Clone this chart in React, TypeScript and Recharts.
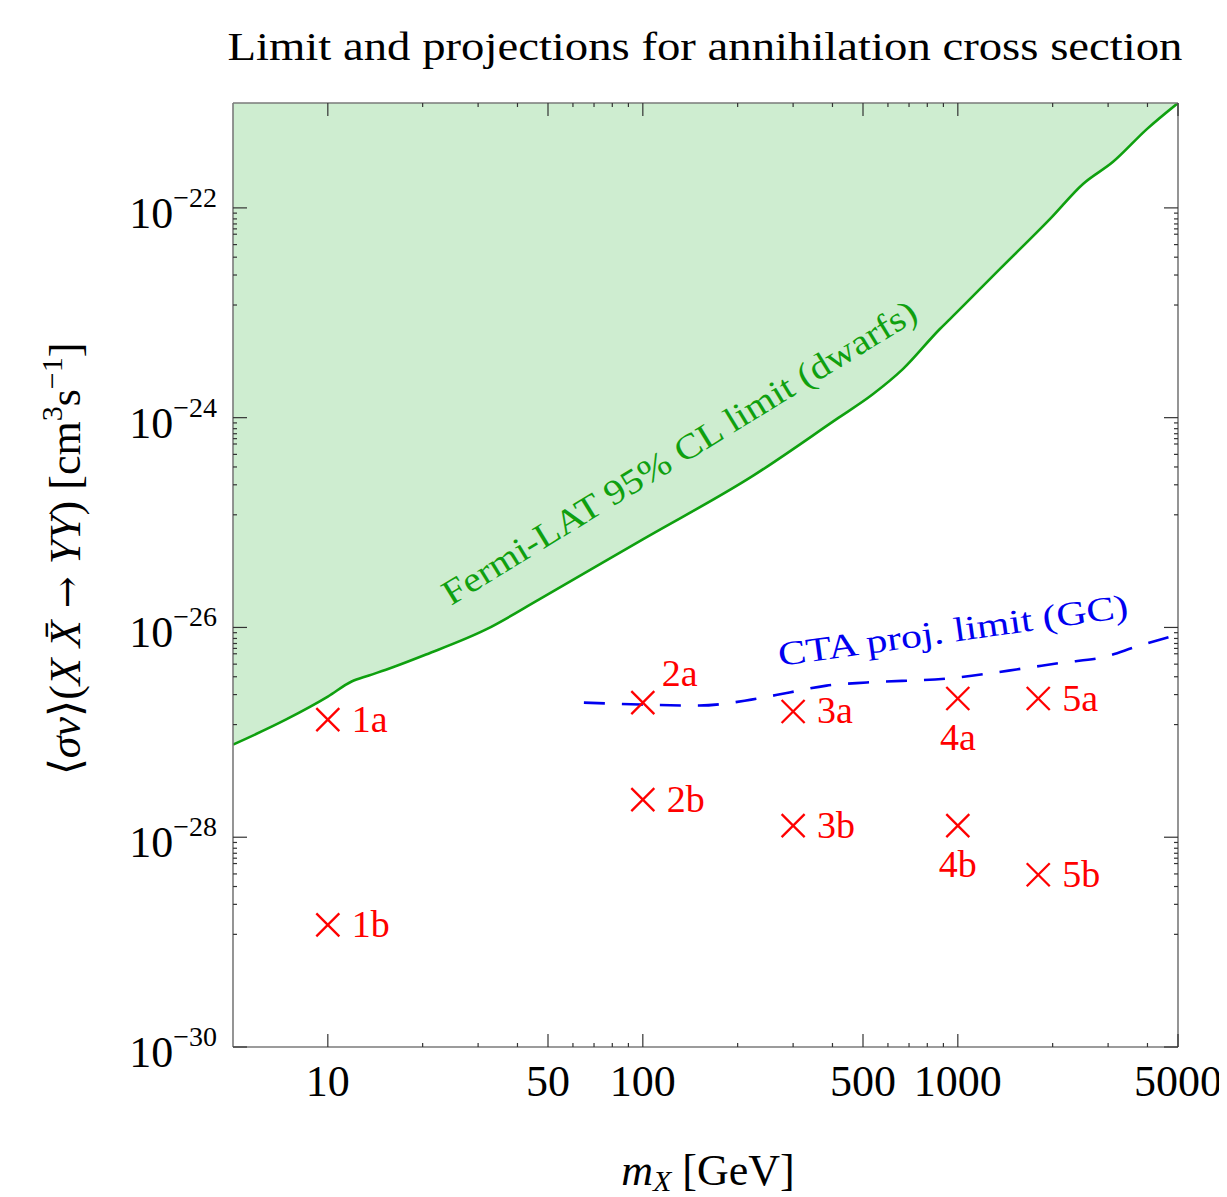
import React from 'react';
import { ComposedChart, Area, Line, Scatter, XAxis, YAxis, ReferenceDot } from 'recharts';

// ---------- data ----------
const xDomain = [5, 5000];
const yDomain = [1e-30, 1e-21];

const fermiMass = [5, 7.35, 10, 11.9, 13.5, 16, 20.5, 31.8, 46.9, 100, 222.8, 412, 537, 669, 877, 944, 1361, 1963, 2497, 3110, 3990, 5000];
const fermiSigma = [7.64e-28, 1.32e-27, 2.19e-27, 3.05e-27, 3.48e-27, 4.15e-27, 5.52e-27, 9.57e-27, 1.85e-26, 6.92e-26, 2.77e-25, 9.68e-25, 1.67e-24, 2.9e-24, 7.0e-24, 8.7e-24, 2.62e-23, 7.85e-23, 1.69e-22, 2.75e-22, 5.67e-22, 1e-21];

const ctaMass = [65, 98, 151, 221, 292, 383, 514, 923, 1611, 2158, 2870, 3710, 5000];
const ctaSigma = [1.92e-27, 1.84e-27, 1.8e-27, 2.05e-27, 2.4e-27, 2.79e-27, 2.99e-27, 3.26e-27, 4.06e-27, 4.63e-27, 5.17e-27, 6.59e-27, 8.57e-27];

const benchLabels = ['1a', '1b', '2a', '2b', '3a', '3b', '4a', '4b', '5a', '5b'];
const benchMass = [10, 10, 100, 100, 300, 300, 1000, 1000, 1800, 1800];
const benchSigma = [1.32e-27, 1.46e-29, 1.92e-27, 2.28e-28, 1.58e-27, 1.29e-28, 2.1e-27, 1.29e-28, 2.1e-27, 4.39e-29];

const xMajorTicks = [10, 50, 100, 500, 1000, 5000];
const xMinorTicks = [20, 30, 40, 60, 70, 80, 90, 200, 300, 400, 600, 700, 800, 900, 2000, 3000, 4000];
const yMajorExp = [-30, -28, -26, -24, -22];
const yMinorOffsets = [0.05, 0.105, 0.153, 0.2, 0.251, 0.35, 0.47, 0.64, 0.926];

const title = 'Limit and projections for annihilation cross section';
const fermiLabel = 'Fermi-LAT 95% CL limit (dwarfs)';
const ctaLabel = 'CTA proj. limit (GC)';
const fermiLabelAnchor = { m: 136.5, s: 3.76e-25 };
const ctaLabelAnchor = { m: 977, s: 7.34e-27 };

// ---------- derived tables ----------
const fermiData = fermiMass.map((m, i) => ({ m, s: fermiSigma[i], band: [fermiSigma[i], yDomain[1]] }));
const ctaData = ctaMass.map((m, i) => ({ m, s: ctaSigma[i] }));
const benchData = benchLabels.map((label, i) => ({ m: benchMass[i], s: benchSigma[i], label }));

const yMajorTicks = yMajorExp.map((e) => Math.pow(10, e));
const yMinorTicks: number[] = [];
yMajorExp.forEach((e) => {
  if (e === yMajorExp[0]) return;
  yMinorOffsets.forEach((d) => yMinorTicks.push(Math.pow(10, e - d)));
});
const xTicks = [...xMajorTicks, ...xMinorTicks].sort((a, b) => a - b);
const yTicks = [...yMajorTicks, ...yMinorTicks].sort((a, b) => a - b);

// ---------- styles ----------
const SERIF = "'Liberation Serif', 'DejaVu Serif', serif";
const FRAME = '#7a7a7a';
const TICK = '#333333';
const GREEN = '#0fa00f';
const FILL = '#ceedd0';
const BLUE = '#0000f0';
const RED = '#ff0000';
const labelPlacement: Record<string, string> = { '2a': 'above', '4a': 'below', '4b': 'below' };

const isMajorX = (v: number) => xMajorTicks.some((t) => Math.abs(t - v) < 1e-9);
const isMajorY = (v: number) => yMajorTicks.some((t) => Math.abs(Math.log10(t) - Math.log10(v)) < 1e-6);

const BottomTick = (p: any) => {
  const { x, y, payload } = p;
  const major = isMajorX(payload.value);
  return (
    <g>
      <line x1={x} y1={y} x2={x} y2={y - (major ? 13 : 4)} stroke={TICK} strokeWidth={1.2} />
      {major && (
        <text x={x} y={y + 49} textAnchor="middle" fontSize={44} fontFamily={SERIF} fill="#000">
          {payload.value}
        </text>
      )}
    </g>
  );
};

const TopTick = (p: any) => {
  const { x, y, payload } = p;
  const major = isMajorX(payload.value);
  return <line x1={x} y1={y} x2={x} y2={y + (major ? 13 : 4)} stroke={TICK} strokeWidth={1.2} />;
};

const LeftTick = (p: any) => {
  const { x, y, payload } = p;
  const major = isMajorY(payload.value);
  const exp = Math.round(Math.log10(payload.value));
  return (
    <g>
      <line x1={x} y1={y} x2={x + (major ? 14 : 4)} y2={y} stroke={TICK} strokeWidth={1.2} />
      {major && (
        <text x={x - 16} y={y + 20} textAnchor="end" fontSize={44} fontFamily={SERIF} fill="#000">
          <tspan>10</tspan>
          <tspan dy={-21} fontSize={28}>{'\u2212' + Math.abs(exp)}</tspan>
        </text>
      )}
    </g>
  );
};

const RightTick = (p: any) => {
  const { x, y, payload } = p;
  const major = isMajorY(payload.value);
  return <line x1={x} y1={y} x2={x - (major ? 14 : 4)} y2={y} stroke={TICK} strokeWidth={1.2} />;
};

const BenchMarker = (p: any) => {
  const { cx, cy, payload } = p;
  if (cx == null || cy == null) return null;
  const s = 11.5;
  const place = labelPlacement[payload.label] || 'right';
  let tx = cx + 24;
  let ty = cy + 12;
  let anchor: any = 'start';
  if (place === 'above') {
    tx = cx + 19;
    ty = cy - 17;
  } else if (place === 'below') {
    tx = cx;
    ty = cy + 51;
    anchor = 'middle';
  }
  return (
    <g>
      <line x1={cx - s} y1={cy - s} x2={cx + s} y2={cy + s} stroke={RED} strokeWidth={2.3} />
      <line x1={cx - s} y1={cy + s} x2={cx + s} y2={cy - s} stroke={RED} strokeWidth={2.3} />
      <text x={tx} y={ty} textAnchor={anchor} fontSize={38} fontFamily={SERIF} fill={RED}>
        {payload.label}
      </text>
    </g>
  );
};

const RotText = (text: string, color: string, angle: number, size: number, len: number) => (p: any) => {
  const { cx, cy } = p;
  if (cx == null || cy == null) return null;
  return (
    <text
      x={cx}
      y={cy}
      transform={`rotate(${-angle} ${cx} ${cy})`}
      textAnchor="middle"
      fontSize={size}
      fontFamily={SERIF}
      fill={color}
      textLength={len}
      lengthAdjust="spacingAndGlyphs"
    >
      {text}
    </text>
  );
};

const W = 1219;
const H = 1189;

export default function App() {
  return (
    <div style={{ position: 'relative', width: W, height: H, background: '#fff' }}>
      <ComposedChart width={W} height={H} margin={{ top: 94, right: 48, bottom: 0, left: 0 }}>
        <XAxis
          dataKey="m"
          type="number"
          scale="log"
          domain={xDomain}
          allowDataOverflow
          ticks={xTicks}
          interval={0}
          height={150}
          tickSize={0}
          tickMargin={0}
          tickLine={false}
          axisLine={{ stroke: FRAME, strokeWidth: 1.6 }}
          tick={<BottomTick />}
        />
        <XAxis
          xAxisId="top"
          orientation="top"
          dataKey="m"
          type="number"
          scale="log"
          domain={xDomain}
          allowDataOverflow
          ticks={xTicks}
          interval={0}
          height={1}
          tickSize={0}
          tickMargin={0}
          tickLine={false}
          axisLine={{ stroke: FRAME, strokeWidth: 1.6 }}
          tick={<TopTick />}
        />
        <YAxis
          dataKey="s"
          type="number"
          scale="log"
          domain={yDomain}
          allowDataOverflow
          ticks={yTicks}
          interval={0}
          width={225}
          tickSize={0}
          tickMargin={0}
          tickLine={false}
          axisLine={{ stroke: FRAME, strokeWidth: 1.6 }}
          tick={<LeftTick />}
        />
        <YAxis
          yAxisId="right"
          orientation="right"
          dataKey="s"
          type="number"
          scale="log"
          domain={yDomain}
          allowDataOverflow
          ticks={yTicks}
          interval={0}
          width={1}
          tickSize={0}
          tickMargin={0}
          tickLine={false}
          axisLine={{ stroke: FRAME, strokeWidth: 1.6 }}
          tick={<RightTick />}
        />
        <Area
          data={fermiData}
          dataKey="band"
          type="monotone"
          stroke="none"
          fill={FILL}
          fillOpacity={1}
          isAnimationActive={false}
          activeDot={false}
          dot={false}
        />
        <Line
          data={fermiData}
          dataKey="s"
          type="monotone"
          stroke={GREEN}
          strokeWidth={2.6}
          dot={false}
          activeDot={false}
          isAnimationActive={false}
        />
        <Line
          data={ctaData}
          dataKey="s"
          type="monotone"
          stroke={BLUE}
          strokeWidth={2.6}
          strokeDasharray="21 17"
          dot={false}
          activeDot={false}
          isAnimationActive={false}
        />
        <Scatter data={benchData} dataKey="s" shape={<BenchMarker />} isAnimationActive={false} />
        <ReferenceDot
          x={fermiLabelAnchor.m}
          y={fermiLabelAnchor.s}
          r={0}
          ifOverflow="visible"
          shape={RotText(fermiLabel, GREEN, 31.5, 35, 550)}
        />
        <ReferenceDot
          x={ctaLabelAnchor.m}
          y={ctaLabelAnchor.s}
          r={0}
          ifOverflow="visible"
          shape={RotText(ctaLabel, BLUE, 8, 34, 353)}
        />
      </ComposedChart>
      <svg
        width={W}
        height={H}
        style={{ position: 'absolute', left: 0, top: 0, pointerEvents: 'none' }}
      >
        <text
          x={697}
          y={52}
          textAnchor="middle"
          fontSize={39}
          fontFamily={SERIF}
          fill="#000"
          textLength={955}
          lengthAdjust="spacingAndGlyphs"
        >
          {title}
        </text>
        <text
          transform="translate(72 551) rotate(-90)"
          x={0}
          y={0}
          textAnchor="middle"
          fontSize={44}
          fontFamily={SERIF}
          fill="#000"
        >
          <tspan>{'\u27E8'}</tspan>
          <tspan fontStyle="italic">{'\u03C3v'}</tspan>
          <tspan>{'\u27E9('}</tspan>
          <tspan fontStyle="italic">{'X X\u0304'}</tspan>
          <tspan fontFamily="'DejaVu Serif', serif" fontSize={38}>{' \u2192 '}</tspan>
          <tspan fontStyle="italic">YY</tspan>
          <tspan>{') [cm'}</tspan>
          <tspan dy={-18} fontSize={30}>3</tspan>
          <tspan dy={18}>s</tspan>
          <tspan dy={-18} fontSize={30}>{'\u22121'}</tspan>
          <tspan dy={18}>]</tspan>
        </text>
        <text x={700} y={1177} textAnchor="middle" fontSize={44} fontFamily={SERIF} fill="#000">
          <tspan fontStyle="italic">m</tspan>
          <tspan fontStyle="italic" fontSize={30} dy={6}>X</tspan>
          <tspan dy={-6}>{' [GeV]'}</tspan>
        </text>
      </svg>
    </div>
  );
}
